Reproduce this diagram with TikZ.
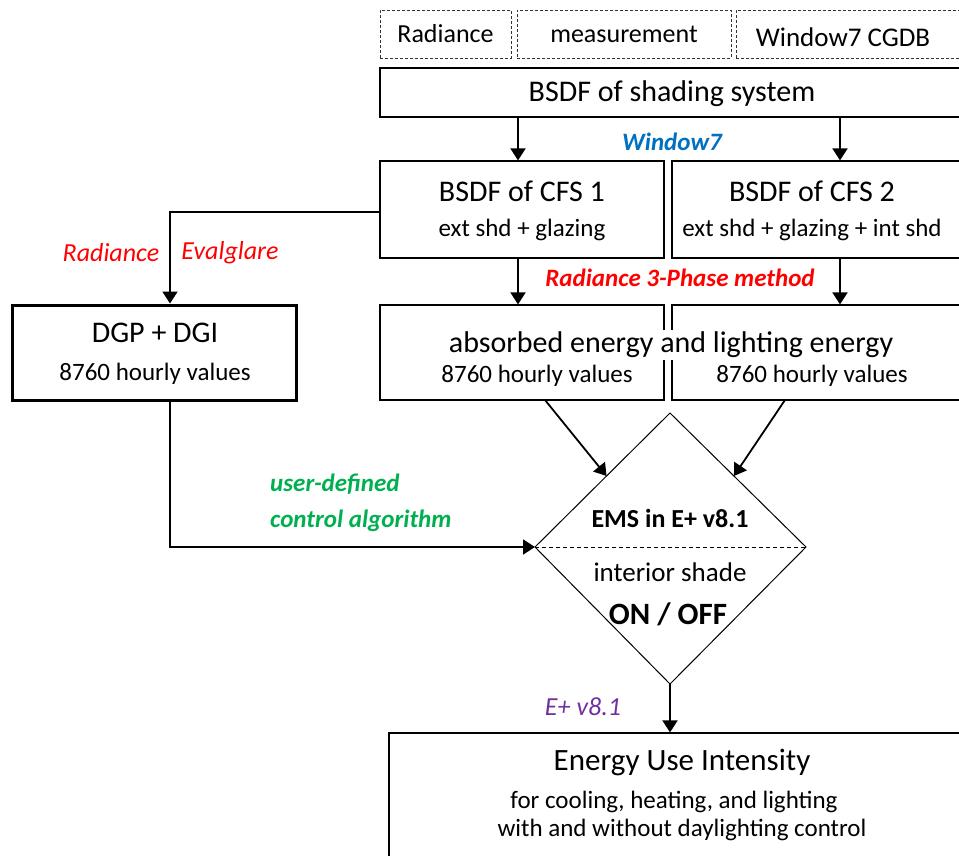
\documentclass[tikz,border=0pt]{standalone}
\usepackage{fontspec}
\setmainfont{Carlito}
\usetikzlibrary{arrows.meta,calc}
\definecolor{wblue}{RGB}{0,112,192}
\definecolor{rred}{RGB}{255,0,0}
\definecolor{ggreen}{RGB}{0,176,80}
\definecolor{ppurple}{RGB}{112,48,160}
\newcommand{\FTtl}{\fontsize{30}{36}\selectfont}
\newcommand{\FSub}{\fontsize{25}{30}\selectfont}
\newcommand{\FLab}{\fontsize{25}{30}\selectfont}
\begin{document}
\begin{tikzpicture}[x=1pt,y=-1pt,
  box/.style={draw=black,line width=1.2pt,fill=none,inner sep=0pt,rectangle},
  dbox/.style={draw=black!80,line width=1pt,dashed,dash pattern=on 3pt off 2pt,inner sep=0pt,rectangle},
  thickbox/.style={draw=black,line width=3pt,inner sep=0pt,rectangle},
  txt/.style={inner sep=1pt,text=black},
  arr/.style={line width=1.8pt,-{Triangle[width=15pt,length=12pt]}},
  lab/.style={inner sep=0pt,font=\FLab\bfseries\itshape}]
\useasboundingbox (0,0) rectangle (959,855);
\clip (0,0) rectangle (959,855);
% top dashed sources
\node[dbox,minimum width=131pt,minimum height=48pt] (rad) at (445.5,34) {};
\node[dbox,minimum width=214pt,minimum height=48pt] (meas) at (624,34) {};
\node[dbox,minimum width=226pt,minimum height=48pt] (wcg) at (849,34) {};
\node[txt,font=\fontsize{26}{30}\selectfont] (radt) at (445.5,34) {Radiance};
\node[txt,font=\fontsize{26}{30}\selectfont] (meast) at (624,34) {measurement};
\node[txt,font=\fontsize{27}{30}\selectfont] (wcgt) at (843,37) {Window7 CGDB};
% BSDF of shading system
\node[box,minimum width=582pt,minimum height=49pt] (bsdf) at (671,92.5) {};
\node[txt,font=\FTtl] (bsdft) at (672,94) {BSDF of shading system};
% CFS boxes
\node[box,minimum width=284pt,minimum height=97pt] (cfs1) at (522,209.5) {};
\node[box,minimum width=290pt,minimum height=97pt] (cfs2) at (817,209.5) {};
\node[txt,font=\FTtl] (cfs1t) at (522,191) {BSDF of CFS 1};
\node[txt,font=\FSub] (cfs1s) at (522,230) {ext shd + glazing};
\node[txt,font=\FTtl] (cfs2t) at (812,191) {BSDF of CFS 2};
\node[txt,font=\FSub] (cfs2s) at (812,230) {ext shd + glazing + int shd};
% absorbed energy boxes
\node[box,minimum width=284pt,minimum height=95pt] (ab1) at (522,352.5) {};
\node[box,minimum width=290pt,minimum height=95pt] (ab2) at (817,352.5) {};
\node[txt,font=\FTtl,fill=white,inner sep=2pt] (abt) at (671,345) {absorbed energy and lighting energy};
\node[txt,font=\FSub] (ab1s) at (537,376) {8760 hourly values};
\node[txt,font=\FSub] (ab2s) at (812,376) {8760 hourly values};
% DGP box
\node[thickbox,minimum width=284pt,minimum height=95pt] (dgp) at (154,352.5) {};
\node[txt,font=\FTtl] (dgpt) at (155,333) {DGP + DGI};
\node[txt,font=\FSub] (dgps) at (155,374) {8760 hourly values};
% diamond
\coordinate (dT) at (670,413);
\coordinate (dB) at (670,684);
\coordinate (dL) at (535,547);
\coordinate (dR) at (806,547);
\draw[line width=1pt] (dT) -- (dR) -- (dB) -- (dL) -- cycle;
\draw[line width=1pt,dashed,dash pattern=on 4pt off 3pt] (dL) -- (dR);
\node[txt,font=\fontsize{26}{30}\selectfont\bfseries] (emst) at (670,518) {EMS in E+ v8.1};
\node[txt,font=\fontsize{27}{30}\selectfont] (ints) at (670,572) {interior shade};
\node[txt,font=\fontsize{31}{36}\selectfont\bfseries] (onoff) at (668,614) {ON / OFF};
% EUI box
\node[box,minimum width=573pt,minimum height=130pt] (eui) at (675.5,798) {};
\node[txt,font=\fontsize{31}{36}\selectfont] (euit) at (682,762) {Energy Use Intensity};
\node[txt,font=\FSub] (euis1) at (674,802) {for cooling, heating, and lighting};
\node[txt,font=\FSub] (euis2) at (682,830) {with and without daylighting control};
% helper coordinates
\coordinate (xa) at (518,0);
\coordinate (xb) at (840,0);
\coordinate (xc) at (170,0);
\coordinate (e1s) at (545,400);
\coordinate (e2s) at (785,400);
% connectors
\draw[arr] (bsdf.south -| xa) -- (cfs1.north -| xa);
\draw[arr] (bsdf.south -| xb) -- (cfs2.north -| xb);
\draw[arr] (cfs1.south -| xa) -- (ab1.north -| xa);
\draw[arr] (cfs2.south -| xb) -- (ab2.north -| xb);
\draw[arr] ([yshift=-2.5pt]cfs1.west) -| (dgp.north -| xc);
\draw[arr] (dgp.south -| xc) |- (dL);
\draw[arr] (e1s) -- ($(dT)!0.47!(dL)$);
\draw[arr] (e2s) -- ($(dT)!0.47!(dR)$);
\draw[arr] (dB) -- (eui.north -| dB);
% labels
\node[lab,text=wblue] (lw7) at (672,142) {Window7};
\node[lab,text=rred] (l3p) at (680,278) {Radiance 3-Phase method};
\node[inner sep=0pt,font=\fontsize{26}{30}\selectfont\itshape,text=rred] (lrad) at (111,253) {Radiance};
\node[inner sep=0pt,font=\fontsize{26}{30}\selectfont\itshape,text=rred] (levg) at (230,253) {Evalglare};
\node[lab,text=ggreen,anchor=west] (lud) at (270,484) {user-defined};
\node[lab,text=ggreen,anchor=west] (lca) at (270,521) {control algorithm};
\node[inner sep=0pt,font=\fontsize{26}{30}\selectfont\itshape,text=ppurple] (lep) at (583,707) {E+ v8.1};
\end{tikzpicture}
\end{document}
